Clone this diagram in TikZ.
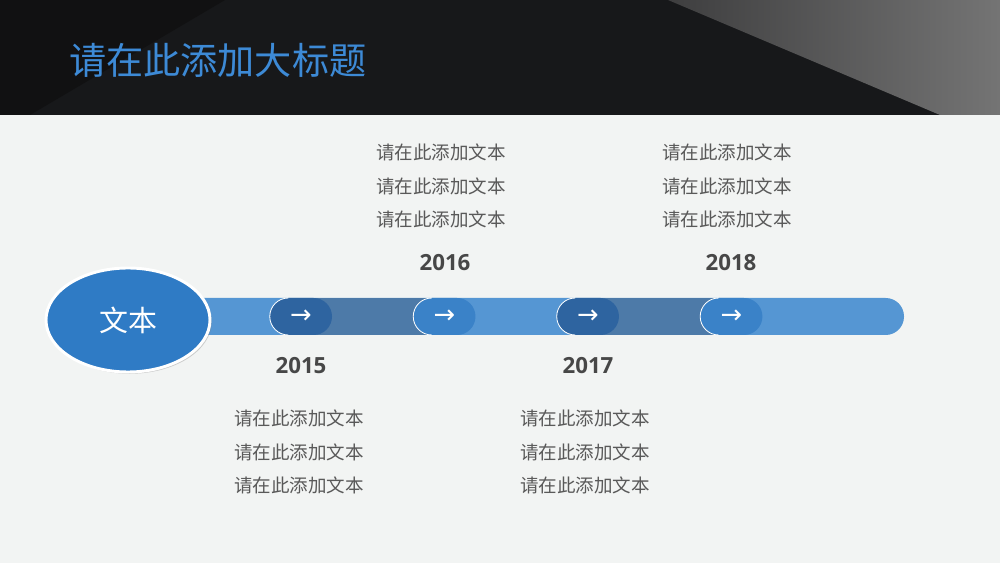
\documentclass[tikz,border=0pt]{standalone}
\usepackage{fontspec}
\setmainfont{Noto Sans CJK SC}
\newfontfamily\yearfont{Open Sans}
\newfontfamily\arrowfont{DejaVu Sans}
\usetikzlibrary{positioning,shapes,shadows}
\definecolor{bgcol}{HTML}{F2F4F3}
\definecolor{headcol}{HTML}{17181A}
\definecolor{headdark}{HTML}{111112}
\definecolor{headgrayA}{HTML}{3E3E3F}
\definecolor{headgrayB}{HTML}{747474}
\definecolor{titleblue}{HTML}{3D8AD6}
\definecolor{barlight}{HTML}{5596D3}
\definecolor{bardark}{HTML}{4D7AA8}
\definecolor{mdark}{HTML}{2E64A0}
\definecolor{mlight}{HTML}{3A82C8}
\definecolor{ellblue}{HTML}{2F7BC5}
\definecolor{yeargray}{HTML}{474747}
\definecolor{infogray}{HTML}{595959}
\begin{document}
\begin{tikzpicture}[x=0.03cm,y=0.03cm,node distance=2.43cm,
	marker/.style={rounded rectangle,minimum width=1.86cm,minimum height=1.11cm,inner sep=0pt,text=white,font=\arrowfont\fontsize{22}{22}\selectfont},
	year/.style={text=yeargray,font=\yearfont\bfseries\fontsize{19}{19}\selectfont},
	info/.style={text=infogray,align=center,font=\fontsize{15.8}{28.5}\selectfont}]
		\useasboundingbox (0,0) rectangle (1000,563);
		\fill[bgcol] (0,0) rectangle (1000,563);
		% header
		\fill[headcol] (0,448) rectangle (1000,563);
		\fill[headdark] (0,563) -- (225,563) -- (30,448) -- (0,448) -- cycle;
		\shade[left color=headgrayA,right color=headgrayB] (668,563) -- (1000,563) -- (1000,448) -- (940,448) -- cycle;
		\node[anchor=west,inner sep=0pt,text=titleblue,font=\fontsize{31.7}{31.7}\selectfont] (title) at (69,503) {请在此添加大标题};

		% timeline bar
		\fill[barlight,rounded corners=0.55cm] (180,228) rectangle (904,265);
		\fill[bardark] (310,228) rectangle (430,265);
		\fill[bardark] (595,228) rectangle (715,265);

		\node[marker,fill=mdark] (m1) at (301,246.5) {→};
		\node[marker,fill=mlight] (m2) [right=of m1] {→};
		\node[marker,fill=mdark] (m3) [right=of m2] {→};
		\node[marker,fill=mlight] (m4) [right=of m3] {→};
		\foreach \m in {m1,m2,m3,m4}
			\draw[white,line width=0.7pt] ([xshift=0.555cm,yshift=0.555cm]\m.west) arc[start angle=90,end angle=270,radius=18.5];

		\node[ellipse,fill=ellblue,draw=white,line width=2.5pt,minimum width=4.92cm,minimum height=3.12cm,
			drop shadow={shadow xshift=1.5pt,shadow yshift=-1.5pt,opacity=0.35},
			text=white,font=\fontsize{24.7}{24.7}\selectfont] (start) at (128,243) {文本};

		% years
		\node[year] (y1) at (301,197) {2015};
		\node[year] (y2) at (445,300) {2016};
		\node[year] (y3) at (588,197) {2017};
		\node[year] (y4) at (731,300) {2018};

		% texts
		\node[info] (t1) at (299,111) {请在此添加文本\\请在此添加文本\\请在此添加文本};
		\node[info] (t2) at (441,377) {请在此添加文本\\请在此添加文本\\请在此添加文本};
		\node[info] (t3) at (585,111) {请在此添加文本\\请在此添加文本\\请在此添加文本};
		\node[info] (t4) at (727,377) {请在此添加文本\\请在此添加文本\\请在此添加文本};
\end{tikzpicture}
\end{document}
